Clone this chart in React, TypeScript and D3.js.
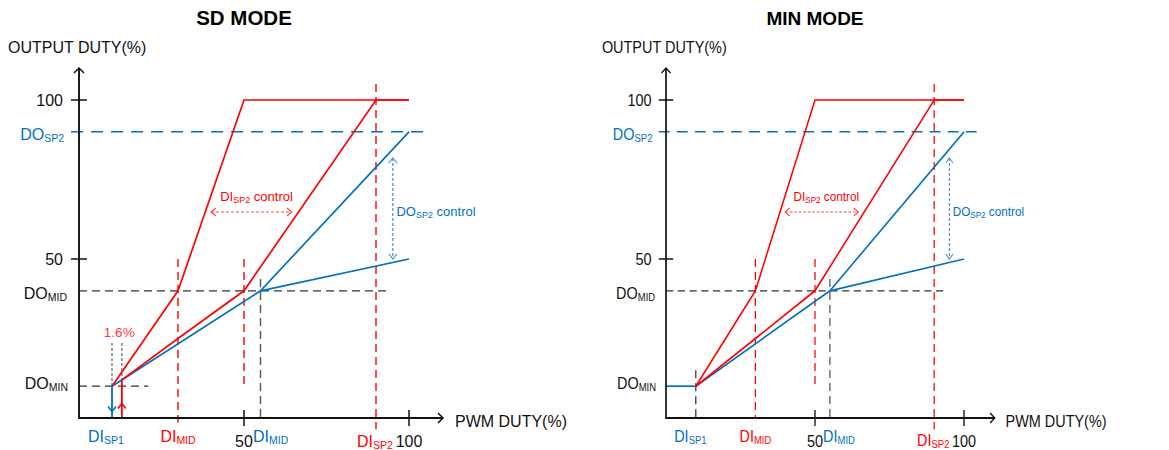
import React from "react";
import * as d3 from "d3";

// axis ticks
const xTicks = [50, 100];
const yTicks = [50, 100];

// set points (percent)
const doSp2 = 90;
const doMid = 40;
const doMin = 10;
const diSp1 = 10;
const diSp1Sd = 13; // SD mode start, shifted by the 1.6% step
const diMidRed = 30;
const diMidBlue = 55;
const diSp2 = 90;

// curves, [PWM duty, output duty]
const redSteep: [number, number][] = [[10, 10], [30, 40], [50, 100], [100, 100]];
const redShallowSd: [number, number][] = [[13, 12], [30, 25], [50, 40], [90, 100], [100, 100]];
const redShallowMin: [number, number][] = [[10, 10], [30, 25], [50, 40], [90, 100], [100, 100]];
const blueUpper: [number, number][] = [[10, 10], [55, 40], [100, 90]];
const blueLower: [number, number][] = [[55, 40], [100, 50]];
const blueFloorMin: [number, number][] = [[0, 10], [10, 10]];

const RED = "#ff0000";
const BLUE = "#0070c0";
const FONT = "'Liberation Sans', Arial, sans-serif";

// both panels share one geometry; the MIN panel is squeezed horizontally
const BASE_LEFT = 79;
const BASE_RIGHT = 409;
const BASE_ARROW = 443;

type PanelProps = {
  mode: "SD" | "MIN";
  offset: number;
  sx: number;
  titleSize: number;
};

const Sub = ({ main, sub, size = 16, subSize = 10.5 }: { main: string; sub: string; size?: number; subSize?: number }) => (
  <>
    <tspan fontSize={size}>{main}</tspan>
    <tspan fontSize={subSize} dy={2}>{sub}</tspan>
  </>
);

const Panel = ({ mode, offset, sx, titleSize }: PanelProps) => {
  const x = d3.scaleLinear().domain([0, 100]).range([BASE_LEFT, BASE_RIGHT]);
  const y = d3.scaleLinear().domain([0, 100]).range([418, 100]);
  const line = d3.line<[number, number]>().x(d => x(d[0])).y(d => y(d[1]));
  const sd = mode === "SD";
  const x0 = x(0);
  const y0 = y(0);
  const arrowEnd = BASE_ARROW;

  const vDash = (xv: number, y1: number, y2: number, color: string, dash = "8,5", w = 1.4) => (
    <line x1={x(xv)} x2={x(xv)} y1={y(y1)} y2={y(y2)} stroke={color} strokeWidth={w} strokeDasharray={dash} />
  );

  const ctrlY = 212;
  const ctrlX = x(95.1);

  return (
    <g fontFamily={FONT}>
      <text x={offset + sx * (x(50) - BASE_LEFT)} y={25} textAnchor="middle" fontSize={titleSize} fontWeight="bold">{mode} MODE</text>
      <g transform={`translate(${offset},0) scale(${sx},1) translate(${-BASE_LEFT},0)`}>
        <text x={8} y={53} fontSize={16} fill="#111">OUTPUT DUTY(%)</text>

        {/* guides */}
        <line x1={x0 - 8} x2={x(105.5)} y1={y(doSp2)} y2={y(doSp2)} stroke={BLUE} strokeWidth={1.5} strokeDasharray="12,8" />
        <line x1={x0} x2={x(94.2)} y1={y(doMid)} y2={y(doMid)} stroke="#333" strokeWidth={1.3} strokeDasharray="8,5" />
        {sd && <line x1={x0} x2={x(21)} y1={y(doMin)} y2={y(doMin)} stroke="#333" strokeWidth={1.3} strokeDasharray="8,5" />}
        {vDash(diMidRed, 50, sd ? -1.5 : 0, RED)}
        {vDash(50, 50, 10.7, RED)}
        {vDash(diMidBlue, 43.7, 0, "#555")}
        {vDash(diSp2, 105, -3.5, RED)}
        {!sd && vDash(diSp1, 15, 0, "#333")}

        {/* control arrows */}
        <line x1={x(40)} x2={x(64.5)} y1={ctrlY} y2={ctrlY} stroke="#ff4a4a" strokeWidth={1.2} strokeDasharray="3,2" />
        <path d={`M${x(40) + 5},${ctrlY - 4}L${x(40)},${ctrlY}L${x(40) + 5},${ctrlY + 4}M${x(64.5) - 5},${ctrlY - 4}L${x(64.5)},${ctrlY}L${x(64.5) - 5},${ctrlY + 4}`} fill="none" stroke="#ff4a4a" strokeWidth={1.2} />
        <text x={x(42.8)} y={201} fill={RED}>
          <Sub main="DI" sub="SP2" size={13} subSize={9} />
          <tspan fontSize={13} dy={-2}> control</tspan>
        </text>
        <line x1={ctrlX} x2={ctrlX} y1={158} y2={y(50)} stroke="#4a94d4" strokeWidth={1.3} strokeDasharray="3,2" />
        <path d={`M${ctrlX - 4},${163}L${ctrlX},${158}L${ctrlX + 4},${163}M${ctrlX - 4},${y(50) - 5}L${ctrlX},${y(50)}L${ctrlX + 4},${y(50) - 5}`} fill="none" stroke="#4a94d4" strokeWidth={1.2} />
        <text x={x(96.2)} y={216} fill={BLUE}>
          <Sub main="DO" sub="SP2" size={13} subSize={9} />
          <tspan fontSize={13} dy={-2}> control</tspan>
        </text>

        {/* SD mode 1.6% detail */}
        {sd && (
          <>
            {vDash(diSp1, 23.6, doMin, "#707070", "3,2", 1.3)}
            {vDash(diSp1Sd, 23.6, 11.7, "#707070", "3,2", 1.3)}
            <text x={x(12.2)} y={337} textAnchor="middle" fontSize={13.5} fill="#ff3b3b">1.6%</text>
            <line x1={x(diSp1)} x2={x(diSp1)} y1={y(doMin)} y2={y0} stroke={BLUE} strokeWidth={1.8} />
            <path d={`M${x(diSp1) - 4},406.5L${x(diSp1)},411.5L${x(diSp1) + 4},406.5`} fill="none" stroke={BLUE} strokeWidth={1.6} />
            <line x1={x(diSp1Sd)} x2={x(diSp1Sd)} y1={y(11.7)} y2={y0} stroke={RED} strokeWidth={1.8} />
            <path d={`M${x(diSp1Sd) - 4},408.5L${x(diSp1Sd)},403.5L${x(diSp1Sd) + 4},408.5`} fill="none" stroke={RED} strokeWidth={1.6} />
          </>
        )}

        {/* curves */}
        <path d={line(blueUpper) ?? ""} fill="none" stroke={BLUE} strokeWidth={1.7} />
        <path d={line(blueLower) ?? ""} fill="none" stroke={BLUE} strokeWidth={1.7} />
        {!sd && <path d={line(blueFloorMin) ?? ""} fill="none" stroke={BLUE} strokeWidth={1.7} />}
        <path d={line(sd ? redShallowSd : redShallowMin) ?? ""} fill="none" stroke={RED} strokeWidth={1.7} />
        <path d={line(redSteep) ?? ""} fill="none" stroke={RED} strokeWidth={1.7} />

        {/* axes */}
        <line x1={x0} x2={x0} y1={y0 + 1} y2={68} stroke="#111" strokeWidth={1.9} />
        <path d={`M${x0 - 5},73L${x0},68L${x0 + 5},73`} fill="none" stroke="#111" strokeWidth={1.5} />
        <line x1={x0} x2={arrowEnd} y1={y0} y2={y0} stroke="#111" strokeWidth={1.9} />
        <path d={`M${arrowEnd - 5},${y0 - 5}L${arrowEnd},${y0}L${arrowEnd - 5},${y0 + 5}`} fill="none" stroke="#111" strokeWidth={1.5} />
        {yTicks.map(t => (
          <g key={`y${t}`}>
            <line x1={x0 - 8} x2={x0 + 8} y1={y(t)} y2={y(t)} stroke="#111" strokeWidth={1.5} />
            <text x={x0 - 16} y={y(t) + 6} textAnchor="end" fontSize={16} fill="#111">{t}</text>
          </g>
        ))}
        {xTicks.map(t => (
          <g key={`x${t}`}>
            <line x1={x(t)} x2={x(t)} y1={y0 - 8} y2={y0 + 8} stroke="#111" strokeWidth={1.5} />
            <text x={x(t)} y={447} textAnchor="middle" fontSize={16} fill="#111">{t}</text>
          </g>
        ))}
        <text x={arrowEnd + 12} y={427} fontSize={16} fill="#111">PWM DUTY(%)</text>

        {/* y labels */}
        <text x={x0 - 15} y={y(doSp2) + 8} textAnchor="end" fill={BLUE}><Sub main="DO" sub="SP2" /></text>
        <text x={x0 - 12} y={y(doMid) + 8} textAnchor="end" fill="#111"><Sub main="DO" sub="MID" /></text>
        <text x={x0 - 11} y={y(doMin) + 3} textAnchor="end" fill="#111"><Sub main="DO" sub="MIN" /></text>

        {/* x labels */}
        <text x={x(diSp1) - 6} y={442} textAnchor="middle" fill={BLUE}><Sub main="DI" sub="SP1" /></text>
        <text x={x(diMidRed)} y={442} textAnchor="middle" fill={RED}><Sub main="DI" sub="MID" /></text>
        <text x={x(50) + 9} y={442} fill={BLUE}><Sub main="DI" sub="MID" /></text>
        <text x={x(diSp2) - 1} y={446.5} textAnchor="middle" fill={RED}><Sub main="DI" sub="SP2" /></text>
      </g>
    </g>
  );
};

export default function App() {
  return (
    <svg width={1169} height={450} style={{ position: "absolute", left: 0, top: 0, background: "#fff" }}>
      <Panel mode="SD" offset={79} sx={1} titleSize={20.5} />
      <Panel mode="MIN" offset={666} sx={0.903} titleSize={19} />
    </svg>
  );
}
